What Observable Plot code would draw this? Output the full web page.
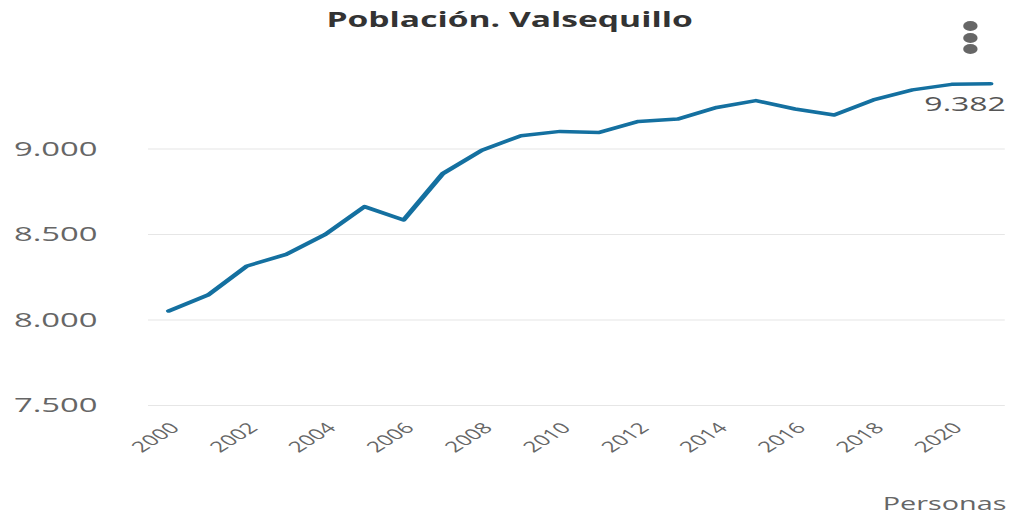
<!DOCTYPE html>
<html>
<head>
<meta charset="utf-8">
<script src="https://cdn.jsdelivr.net/npm/d3@7"></script>
<script src="https://cdn.jsdelivr.net/npm/@observablehq/plot@0.6"></script>
<style>
  html, body { margin: 0; padding: 0; background: #fff; }
  #outer { position: relative; width: 1009px; height: 515px; overflow: hidden; }
  #wrap { position: absolute; left: 0; top: 0; width: 631px; height: 515px; transform: scaleX(1.6); transform-origin: 0 0; font-family: "Open Sans", sans-serif; }
  #title { position: absolute; left: 0; top: 5px; width: 637px; text-align: center; font-size: 21px; font-weight: bold; color: #333; z-index: 2; }
  #chart { position: absolute; left: 0; top: 45px; z-index: 1; }
  .dot { position: absolute; left: 601.5px; width: 9px; height: 10px; border-radius: 50%; background: #666; z-index: 3; }
  #unit { position: absolute; right: 2px; top: 494px; font-size: 18px; line-height: 19px; color: #666; z-index: 2; }
</style>
</head>
<body>
<div id="outer">
<div id="wrap">
  <div id="title">Población. Valsequillo</div>
  <div class="dot" style="top:21px"></div>
  <div class="dot" style="top:33px"></div>
  <div class="dot" style="top:44px"></div>
  <div id="chart"></div>
  <div id="unit">Personas</div>
</div>
</div>
<script>
const years = [2000, 2001, 2002, 2003, 2004, 2005, 2006, 2007, 2008, 2009, 2010,
               2011, 2012, 2013, 2014, 2015, 2016, 2017, 2018, 2019, 2020, 2021];
const population = [8053, 8146, 8316, 8384, 8501, 8663, 8585, 8856, 8993, 9078, 9103,
                    9097, 9161, 9175, 9243, 9283, 9234, 9199, 9287, 9346, 9378, 9382];
const yTicks = [7500, 8000, 8500, 9000];
const xTicks = [2000, 2002, 2004, 2006, 2008, 2010, 2012, 2014, 2016, 2018, 2020];

const data = years.map((y, i) => ({year: y, value: population[i]}));
const esFmt = d3.formatLocale({decimal: ",", thousands: ".", grouping: [3]}).format(",");
const last = data[data.length - 1];

const chart = Plot.plot({
  width: 631,
  height: 470,
  marginLeft: 92.5,
  marginRight: 3,
  marginTop: 18,
  marginBottom: 110,
  style: {fontFamily: "Open Sans, sans-serif", background: "transparent", overflow: "visible"},
  x: {domain: [2000, 2021], insetLeft: 12.5, insetRight: 9.3, ticks: xTicks, tickFormat: d => String(d)},
  y: {domain: [7500, 9500], ticks: yTicks},
  marks: [
    Plot.gridY(yTicks, {stroke: "#e6e6e6", strokeOpacity: 1, strokeWidth: 1.2}),
    Plot.axisY({ticks: yTicks, tickSize: 0, tickPadding: 32, tickFormat: esFmt,
                fontSize: 20.5, fill: "#666", label: null}),
    Plot.axisX({ticks: xTicks, tickSize: 0, tickRotate: -45, tickPadding: 20, dx: 4,
                fontSize: 15, fill: "#666", label: null, tickFormat: d => String(d)}),
    Plot.line(data, {x: "year", y: "value", stroke: "#1470a0", strokeWidth: 3.5, curve: "linear"}),
    Plot.text([last], {x: "year", y: "value", text: d => esFmt(d.value), textAnchor: "end",
                       dx: 9.5, dy: 21, fontSize: 20, fill: "#555"})
  ]
});
document.getElementById("chart").appendChild(chart);
</script>
</body>
</html>
